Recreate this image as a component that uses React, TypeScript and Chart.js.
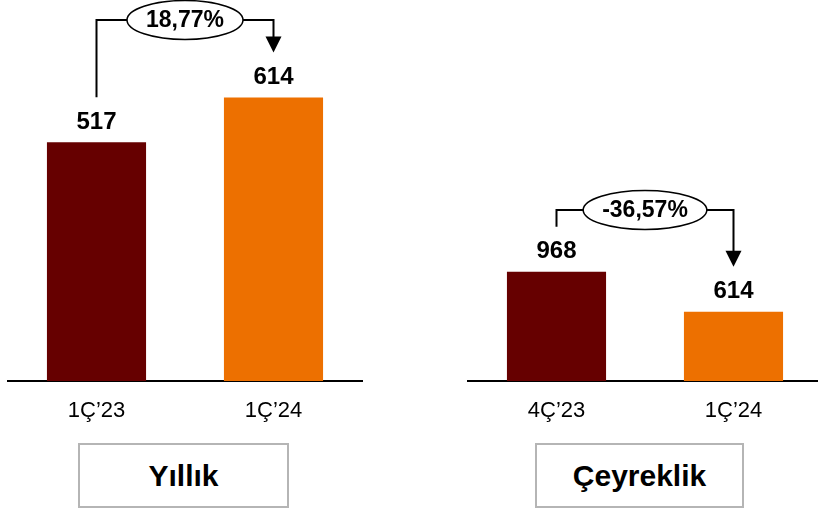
import React, { useEffect, useRef } from "react";
import { Chart, registerables } from "chart.js";

Chart.register(...registerables);

// ---- data ----
const yearlyCategories = ["1Ç’23", "1Ç’24"];
const yearlyValues = [517, 614];
const yearlyChange = "18,77%";
const yearlyTitle = "Yıllık";

const quarterlyCategories = ["4Ç’23", "1Ç’24"];
const quarterlyValues = [968, 614];
const quarterlyChange = "-36,57%";
const quarterlyTitle = "Çeyreklik";

const barColors = ["#660000", "#ED7000"];
const FONT = "'Liberation Sans', Arial, sans-serif";

const annotatePlugin = {
  id: "annotate",
  afterDatasetsDraw(chart: any, _args: any, opts: any) {
    const ctx = chart.ctx;
    const meta = chart.getDatasetMeta(0);
    const data = chart.data.datasets[0].data as number[];
    ctx.save();
    // value labels
    ctx.fillStyle = "#000";
    ctx.font = `bold 24px ${FONT}`;
    ctx.textAlign = "center";
    ctx.textBaseline = "middle";
    meta.data.forEach((bar: any, i: number) => {
      ctx.fillText(String(data[i]), bar.x, bar.y - 20);
    });
    // bracket
    const b0 = meta.data[0];
    const b1 = meta.data[1];
    const startY = b0.y - 45;
    const tipY = b1.y - 45;
    const by = opts.bracketY;
    const cx = (b0.x + b1.x) / 2;
    ctx.font = `bold 23px ${FONT}`;
    const tw = ctx.measureText(opts.label).width;
    const rx = tw / 2 + 19;
    const ry = 19.5;
    ctx.strokeStyle = "#000";
    ctx.lineWidth = 2;
    ctx.beginPath();
    ctx.moveTo(b0.x, startY);
    ctx.lineTo(b0.x, by);
    ctx.lineTo(cx - rx, by);
    ctx.moveTo(cx + rx, by);
    ctx.lineTo(b1.x, by);
    ctx.lineTo(b1.x, tipY - 14);
    ctx.stroke();
    ctx.beginPath();
    ctx.moveTo(b1.x - 8, tipY - 16);
    ctx.lineTo(b1.x + 8, tipY - 16);
    ctx.lineTo(b1.x, tipY);
    ctx.closePath();
    ctx.fillStyle = "#000";
    ctx.fill();
    ctx.beginPath();
    ctx.ellipse(cx, by, rx, ry, 0, 0, Math.PI * 2);
    ctx.fillStyle = "#fff";
    ctx.fill();
    ctx.lineWidth = 1.5;
    ctx.stroke();
    ctx.fillStyle = "#000";
    ctx.fillText(opts.label, cx, by + 1);
    ctx.restore();
  },
};

function BarPanel(props: {
  categories: string[];
  values: number[];
  yMax: number;
  label: string;
  bracketY: number;
  padLeft: number;
  padRight: number;
  width: number;
}) {
  const ref = useRef<HTMLCanvasElement>(null);
  useEffect(() => {
    const chart = new Chart(ref.current as HTMLCanvasElement, {
      type: "bar",
      data: {
        labels: props.categories,
        datasets: [
          {
            data: props.values,
            backgroundColor: barColors,
            borderWidth: 0,
            categoryPercentage: 1,
            barPercentage: 0.56,
          },
        ],
      },
      options: {
        responsive: false,
        animation: false,
        devicePixelRatio: 1,
        layout: {
          padding: { left: props.padLeft, right: props.padRight, top: 0, bottom: 78.6 },
        },
        plugins: {
          legend: { display: false },
          tooltip: { enabled: false },
          annotate: { label: props.label, bracketY: props.bracketY },
        } as any,
        scales: {
          x: {
            grid: { display: false },
            border: { display: true, color: "#000", width: 2 },
            ticks: { color: "#000", padding: 9, font: { family: FONT, size: 22 } },
          },
          y: { display: false, min: 0, max: props.yMax },
        },
      },
      plugins: [annotatePlugin],
    });
    return () => chart.destroy();
  }, []);
  return <canvas ref={ref} width={props.width} height={512} />;
}

const boxStyle: React.CSSProperties = {
  position: "absolute",
  top: 443,
  height: 65,
  boxSizing: "border-box",
  border: "2px solid #b5b5b5",
  display: "flex",
  alignItems: "center",
  justifyContent: "center",
  fontFamily: FONT,
  fontWeight: "bold",
  fontSize: 30,
  color: "#000",
  background: "#fff",
};

export default function App() {
  return (
    <div
      style={{
        position: "absolute",
        left: 0,
        top: 0,
        width: 818,
        height: 512,
        overflow: "hidden",
        background: "#fff",
      }}
    >
      <div style={{ position: "absolute", left: 0, top: 0 }}>
        <BarPanel
          categories={yearlyCategories}
          values={yearlyValues}
          yMax={825}
          label={yearlyChange}
          bracketY={20}
          padLeft={8}
          padRight={47}
          width={409}
        />
      </div>
      <div style={{ position: "absolute", left: 409, top: 0 }}>
        <BarPanel
          categories={quarterlyCategories}
          values={quarterlyValues}
          yMax={3375}
          label={quarterlyChange}
          bracketY={210}
          padLeft={59}
          padRight={7}
          width={420}
        />
      </div>
      <div style={{ ...boxStyle, left: 78, width: 211 }}>{yearlyTitle}</div>
      <div style={{ ...boxStyle, left: 535, width: 209 }}>{quarterlyTitle}</div>
    </div>
  );
}
